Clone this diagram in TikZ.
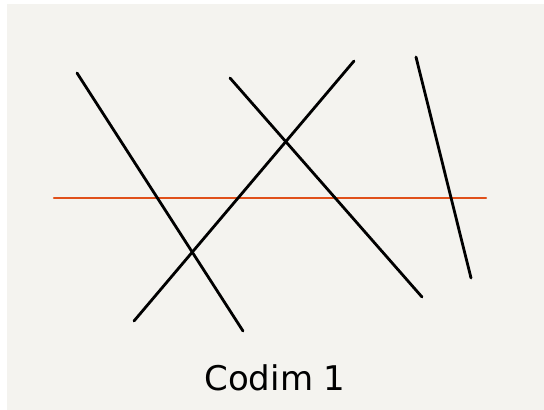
\documentclass[tikz,border=0pt]{standalone}
\usepackage{fontspec}
\setsansfont{DejaVu Sans}
\definecolor{paper}{HTML}{F4F3EF}
\definecolor{cut}{HTML}{E0501A}

\begin{document}
\begin{tikzpicture}[
  x=1pt, y=-1pt,
  stroke/.style={line width=2.8pt, line cap=round, black},
  hyper/.style={line width=2.3pt, line cap=round, cut},
]
  % page and paper
  \useasboundingbox (0,0) rectangle (544,410);
  \fill[white] (0,0) rectangle (544,410);
  \fill[paper] (7,4) rectangle (544,410);

  % the codim 1 cut
  \coordinate (hl) at (54,198);
  \coordinate (hr) at (486,198);
  \draw[hyper] (hl) -- (hr);

  % strokes crossing it
  \coordinate (a1) at (77,73);   \coordinate (a2) at (243,331);
  \coordinate (b1) at (134,321); \coordinate (b2) at (354,61);
  \coordinate (c1) at (230,78);  \coordinate (c2) at (422,297);
  \coordinate (d1) at (416,57);  \coordinate (d2) at (471,278);
  \draw[stroke] (a1) -- (a2);
  \draw[stroke] (b1) -- (b2);
  \draw[stroke] (c1) -- (c2);
  \draw[stroke] (d1) -- (d2);

  \node[font=\sffamily\fontsize{34}{36}\selectfont, inner sep=0pt] (label) at (275,378) {Codim 1};
\end{tikzpicture}
\end{document}
